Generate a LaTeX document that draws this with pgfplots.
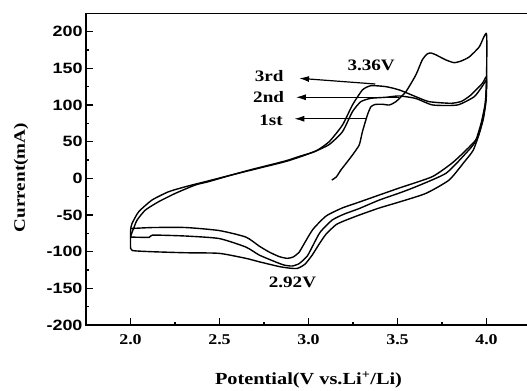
\documentclass[border=0pt]{standalone}
\usepackage{fontspec}
\setmainfont{Liberation Serif}[FakeStretch=1.2]
\newfontfamily\sansb{Liberation Sans}[FakeStretch=1.2]
\usepackage{pgfplots}
\pgfplotsset{compat=1.18}
\usetikzlibrary{arrows.meta}
\pgfplotsset{cvline/.style={black, line width=1.4pt, smooth, tension=0.35, mark=none}}
\begin{document}
\begin{tikzpicture}
\clip (-86bp,-66bp) rectangle (441bp,325bp);
\begin{axis}[
  scale only axis, width=445bp, height=311.7bp,
  xmin=1.75, xmax=4.25, ymin=-200, ymax=225,
  xtick={2,2.5,3,3.5,4}, ytick={-200,-150,-100,-50,0,50,100,150,200},
  minor x tick num=1, minor y tick num=1,
  tick align=inside, xtick pos=left, ytick pos=left,
  major tick length=7bp, minor tick length=3.5bp,
  every tick/.style={black, line width=1.1pt},
  axis line style={line width=1.3pt},
  x tick label style={font=\fontsize{15}{15}\selectfont\bfseries, yshift=-6bp, /pgf/number format/.cd, fixed, fixed zerofill, precision=1, assume math mode=true},
  y tick label style={font=\fontsize{15}{15}\selectfont\sansb\bfseries, /pgf/number format/assume math mode=true},
  xlabel={Potential(V vs.Li\textsuperscript{+}/Li)},
  xlabel style={font=\fontsize{17}{17}\selectfont\bfseries, at={(axis description cs:0.5,-0.176)}, anchor=center},
  ylabel={Current(mA)},
  ylabel style={font=\fontsize{16}{16}\selectfont\bfseries, at={(axis description cs:-0.146,0.473)}, anchor=center},
]
% 1st cycle
\addplot[cvline] coordinates {
(3.131,-2.3) (3.156,1.8) (3.182,11.3) (3.217,22.2) (3.247,31.8) (3.285,45.5) (3.303,63.6)
(3.331,86.4) (3.351,97.7) (3.375,100.7) (3.415,101) (3.454,100) (3.491,104.5) (3.547,118.1)
(3.603,140.9) (3.639,161.4) (3.667,169.6) (3.689,170.9) (3.717,168.2) (3.772,161.4) (3.818,157.7)
(3.858,160) (3.903,165.5) (3.959,179.1) (4.0,196.9)
(4.0,134.1) (3.993,99.9) (3.965,65.8) (3.926,38.6) (3.875,22.3) (3.790,-2.3) (3.660,-20.5)
(3.510,-32.3) (3.397,-40.5) (3.285,-50.1) (3.212,-56.9) (3.156,-63.0) (3.099,-76.0) (3.060,-89.6)
(3.021,-104.6) (2.981,-116.9) (2.938,-122.8) (2.892,-122.4) (2.835,-120.3) (2.723,-113.8)
(2.648,-109.1) (2.498,-102.3) (2.311,-101.5) (2.124,-100.1) (2.011,-98.5) (2.0,-93.7)
};
% 2nd cycle
\addplot[cvline] coordinates {
(2.0,-93.7) (2.0,-75) (2.002,-68) (2.009,-61.4) (2.046,-45.6) (2.121,-29.6) (2.214,-18.3)
(2.308,-11.5) (2.420,-4.6) (2.55,3.5) (2.68,11.3) (2.867,22.6) (2.95,29) (3.035,36.6) (3.116,46)
(3.191,63.6) (3.247,90.9) (3.294,104.5) (3.351,109.1) (3.435,110.5) (3.509,112.3) (3.603,108.9)
(3.697,100) (3.837,100) (3.931,111.3) (3.975,125) (4.0,133)
(3.993,102.7) (3.970,75.4) (3.936,49.5) (3.884,34.1) (3.772,6.8) (3.603,-11.5)
(3.510,-20.1) (3.397,-29.7) (3.285,-41.2) (3.201,-48.7) (3.133,-56.9) (3.066,-73.3) (3.026,-91.0)
(2.993,-106.0) (2.948,-116.2) (2.908,-119.6) (2.863,-118.3) (2.817,-114.2) (2.723,-104.6)
(2.648,-93.7) (2.498,-82.1) (2.311,-78.7) (2.124,-77.4) (2.105,-80.5) (2.0,-80.1)
};
% 3rd cycle
\addplot[cvline] coordinates {
(2.0,-80.1) (2.008,-74) (2.018,-68) (2.037,-56.9) (2.084,-43.2) (2.158,-31.9) (2.252,-20.5)
(2.364,-9.1) (2.438,-4.6) (2.56,4) (2.68,12) (2.867,23.5) (2.95,30) (3.040,37) (3.116,49.9)
(3.191,72.7) (3.247,100) (3.303,120.5) (3.351,126.3) (3.435,125) (3.510,120.5) (3.603,111.3)
(3.678,104.5) (3.800,102.3) (3.86,105) (3.912,113.6) (3.977,129.6) (4.0,138.2)
(3.998,106.8) (3.981,79.6) (3.948,55.0) (3.886,38.6) (3.807,20.9) (3.695,2.2)
(3.510,-13.2) (3.397,-22.8) (3.285,-32.4) (3.189,-40.5) (3.099,-51.4) (3.026,-69.2) (2.981,-86.9)
(2.948,-100.5) (2.914,-107.3) (2.880,-109.1) (2.835,-106.7) (2.779,-100.5) (2.723,-92.4)
(2.648,-80.1) (2.498,-71.2) (2.311,-67.1) (2.124,-67.1) (2.0,-68.5)
};
\node[font=\fontsize{16}{16}\selectfont\bfseries] at (axis cs:3.352,153.9) {3.36V};
\node[font=\fontsize{16}{16}\selectfont\bfseries] at (axis cs:2.910,-142.2) {2.92V};
\node[font=\fontsize{16}{16}\selectfont\bfseries] at (axis cs:2.779,139.8) {3rd};
\node[font=\fontsize{16}{16}\selectfont\bfseries] at (axis cs:2.776,110.2) {2nd};
\node[font=\fontsize{16}{16}\selectfont\bfseries] at (axis cs:2.789,79.5) {1st};
\draw[-{Latex[length=10bp,width=6bp]}, line width=1.2pt] (axis cs:3.375,128.6) -- (axis cs:2.947,136.4);
\draw[-{Latex[length=10bp,width=6bp]}, line width=1.2pt] (axis cs:3.510,110.5) -- (axis cs:2.929,110.5);
\draw[-{Latex[length=10bp,width=6bp]}, line width=1.2pt] (axis cs:3.331,81.2) -- (axis cs:2.920,81.2);
\end{axis}
\end{tikzpicture}
\end{document}
